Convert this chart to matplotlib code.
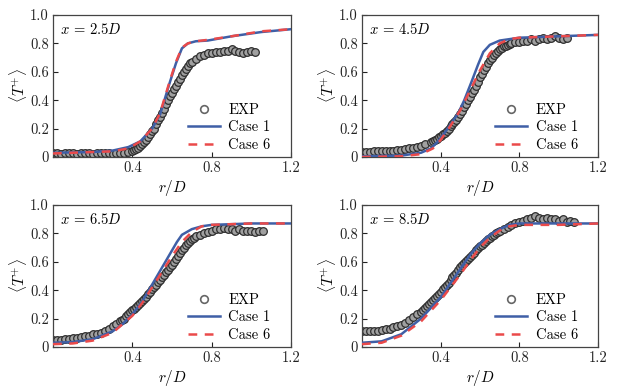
import matplotlib
matplotlib.use("Agg")
import matplotlib.pyplot as plt

plt.rcParams['font.family'] = ['cmr10', 'DejaVu Serif']
plt.rcParams['mathtext.fontset'] = 'cm'
plt.rcParams['axes.formatter.use_mathtext'] = True

panel_titles = ["2.5", "4.5", "6.5", "8.5"]

# ---- EXP data ----
exp1_r = ([round(0.02 * i, 2) for i in range(21)] +
          [round(0.41 + 0.01 * i, 2) for i in range(30)] +
          [round(0.72 + 0.02 * i, 2) for i in range(16)])
exp1_t = [0.025, 0.025, 0.02, 0.025, 0.03, 0.025, 0.02, 0.025, 0.03, 0.025,
          0.02, 0.025, 0.03, 0.025, 0.025, 0.02, 0.025, 0.025, 0.03, 0.035,
          0.045,
          0.05, 0.055, 0.065, 0.075, 0.09, 0.105, 0.12, 0.14, 0.16, 0.18,
          0.20, 0.23, 0.26, 0.28, 0.31, 0.34, 0.37, 0.40, 0.43, 0.45,
          0.48, 0.50, 0.53, 0.55, 0.58, 0.60, 0.62, 0.64, 0.66, 0.67,
          0.69, 0.71, 0.72, 0.73, 0.73, 0.74, 0.74, 0.75, 0.75, 0.76,
          0.75, 0.74, 0.73, 0.74, 0.75, 0.74]

exp2_r = ([round(0.02 * i, 2) for i in range(17)] +
          [round(0.35 + 0.01 * i, 2) for i in range(41)] +
          [round(0.76 + 0.02 * i, 2) for i in range(15)])
exp2_t = [0.035, 0.035, 0.035, 0.04, 0.04, 0.04, 0.04, 0.045, 0.045, 0.05,
          0.05, 0.055, 0.06, 0.065, 0.07, 0.08, 0.09,
          0.105, 0.115, 0.12, 0.13, 0.14, 0.15, 0.16, 0.17, 0.185, 0.20,
          0.215, 0.23, 0.245, 0.26, 0.28, 0.30, 0.325, 0.35, 0.375, 0.40,
          0.425, 0.45, 0.475, 0.50, 0.53, 0.56, 0.585, 0.61, 0.635, 0.66,
          0.68, 0.70, 0.715, 0.73, 0.745, 0.76, 0.77, 0.78, 0.785, 0.79,
          0.795,
          0.80, 0.81, 0.81, 0.82, 0.82, 0.83, 0.82, 0.83, 0.84, 0.83,
          0.84, 0.85, 0.84, 0.83, 0.84]

exp3_r = ([round(0.02 * i, 2) for i in range(18)] +
          [round(0.35 + 0.01 * i, 2) for i in range(38)] +
          [round(0.74 + 0.02 * i, 2) for i in range(17)])
exp3_t = [0.05, 0.05, 0.05, 0.055, 0.055, 0.06, 0.065, 0.07, 0.075, 0.08,
          0.09, 0.095, 0.10, 0.115, 0.13, 0.145, 0.16, 0.18,
          0.19, 0.20, 0.215, 0.23, 0.245, 0.26, 0.27, 0.28, 0.295, 0.31,
          0.325, 0.34, 0.355, 0.37, 0.39, 0.41, 0.425, 0.44, 0.455, 0.47,
          0.49, 0.51, 0.525, 0.54, 0.56, 0.58, 0.60, 0.62, 0.64, 0.66,
          0.68, 0.70, 0.715, 0.73, 0.745, 0.76, 0.77, 0.78,
          0.79, 0.80, 0.81, 0.82, 0.83, 0.83, 0.84, 0.83, 0.83, 0.82,
          0.83, 0.82, 0.82, 0.82, 0.81, 0.82, 0.82]

exp4_r = ([round(0.02 * i, 2) for i in range(15)] +
          [round(0.30 + 0.01 * i, 2) for i in range(41)] +
          [round(0.72 + 0.02 * i, 2) for i in range(19)])
exp4_t = [0.11, 0.11, 0.11, 0.115, 0.115, 0.12, 0.125, 0.13, 0.14, 0.145,
          0.155, 0.17, 0.19, 0.21, 0.23,
          0.25, 0.26, 0.275, 0.29, 0.30, 0.315, 0.33, 0.345, 0.36, 0.375,
          0.39, 0.405, 0.42, 0.435, 0.45, 0.47, 0.49, 0.505, 0.52, 0.54,
          0.56, 0.575, 0.59, 0.605, 0.62, 0.635, 0.65, 0.665, 0.68, 0.695,
          0.71, 0.72, 0.73, 0.745, 0.76, 0.77, 0.78, 0.79, 0.80, 0.81,
          0.82,
          0.83, 0.845, 0.86, 0.87, 0.88, 0.89, 0.90, 0.91, 0.92, 0.91,
          0.90, 0.91, 0.90, 0.90, 0.89, 0.90, 0.88, 0.89, 0.88]

# ---- Case 1 (blue solid) ----
c1_1_r = [0, 0.2, 0.3, 0.38, 0.44, 0.5, 0.54, 0.59, 0.62, 0.65, 0.68, 0.72, 0.78, 0.9, 1.05, 1.2]
c1_1_t = [0.03, 0.035, 0.045, 0.07, 0.11, 0.20, 0.30, 0.53, 0.66, 0.765, 0.80, 0.815, 0.82, 0.85, 0.88, 0.90]
c1_2_r = [0, 0.2, 0.3, 0.35, 0.38, 0.42, 0.46, 0.49, 0.52, 0.557, 0.59, 0.617, 0.65, 0.7, 0.8, 1.0, 1.2]
c1_2_t = [0.005, 0.01, 0.03, 0.06, 0.10, 0.17, 0.25, 0.31, 0.40, 0.53, 0.65, 0.74, 0.79, 0.82, 0.84, 0.85, 0.86]
c1_3_r = [0, 0.1, 0.2, 0.3, 0.35, 0.4, 0.45, 0.5, 0.55, 0.6, 0.625, 0.65, 0.7, 0.75, 0.8, 1.0, 1.2]
c1_3_t = [0.03, 0.035, 0.055, 0.11, 0.16, 0.23, 0.32, 0.44, 0.56, 0.68, 0.74, 0.79, 0.83, 0.85, 0.86, 0.87, 0.87]
c1_4_r = [0, 0.1, 0.2, 0.3, 0.4, 0.45, 0.5, 0.55, 0.6, 0.65, 0.7, 0.75, 0.8, 1.2]
c1_4_t = [0.03, 0.04, 0.09, 0.20, 0.35, 0.45, 0.55, 0.65, 0.73, 0.79, 0.83, 0.86, 0.87, 0.87]

# ---- Case 6 (red dashed) ----
c6_1_r = [0, 0.3, 0.38, 0.44, 0.5, 0.54, 0.59, 0.62, 0.65, 0.68, 0.72, 0.78, 0.9, 1.05, 1.2]
c6_1_t = [0.025, 0.04, 0.06, 0.11, 0.20, 0.31, 0.54, 0.67, 0.77, 0.80, 0.815, 0.825, 0.85, 0.885, 0.90]
c6_2_r = [0, 0.2, 0.3, 0.36, 0.4, 0.45, 0.5, 0.55, 0.6, 0.65, 0.7, 0.75, 0.8, 1.0, 1.2]
c6_2_t = [0.0, 0.005, 0.02, 0.06, 0.12, 0.22, 0.33, 0.47, 0.61, 0.73, 0.80, 0.83, 0.84, 0.85, 0.86]
c6_3_r = [0, 0.1, 0.2, 0.3, 0.4, 0.45, 0.5, 0.55, 0.6, 0.65, 0.7, 0.75, 0.8, 1.0, 1.2]
c6_3_t = [0.02, 0.025, 0.045, 0.10, 0.22, 0.31, 0.42, 0.53, 0.64, 0.74, 0.81, 0.85, 0.86, 0.87, 0.87]
c6_4_r = [0, 0.1, 0.2, 0.3, 0.4, 0.45, 0.5, 0.55, 0.6, 0.65, 0.7, 0.75, 0.8, 1.0, 1.2]
c6_4_t = [0.02, 0.03, 0.08, 0.18, 0.33, 0.42, 0.51, 0.61, 0.70, 0.77, 0.82, 0.85, 0.86, 0.86, 0.87]

xticks = [0.4, 0.8, 1.2]
xticklabels = ["0.4", "0.8", "1.2"]
yticks = [0, 0.2, 0.4, 0.6, 0.8, 1.0]
yticklabels = ["0", "0.2", "0.4", "0.6", "0.8", "1.0"]

exps = [(exp1_r, exp1_t), (exp2_r, exp2_t), (exp3_r, exp3_t), (exp4_r, exp4_t)]
c1s = [(c1_1_r, c1_1_t), (c1_2_r, c1_2_t), (c1_3_r, c1_3_t), (c1_4_r, c1_4_t)]
c6s = [(c6_1_r, c6_1_t), (c6_2_r, c6_2_t), (c6_3_r, c6_3_t), (c6_4_r, c6_4_t)]

fig = plt.figure(figsize=(6.28, 3.90), dpi=100)
W, H = 628, 390
boxes = [(53, 15, 291, 157), (362, 15, 598, 157),
         (53, 205, 291, 347), (362, 205, 598, 347)]

blue = '#3f5fa6'
red = '#ea4a4a'

for i, (x0, y0, x1, y1) in enumerate(boxes):
    ax = fig.add_axes([x0 / W, 1 - y1 / H, (x1 - x0) / W, (y1 - y0) / H])
    er, et = exps[i]
    ax.plot(er, et, 'o', ms=5.5, mfc='#a0a0a0', mec='#2e2e2e', mew=0.9,
            label='EXP', zorder=2)
    ax.plot(*c1s[i], '-', color=blue, lw=1.8, label='Case 1', zorder=3)
    ax.plot(*c6s[i], '--', color=red, lw=1.8, dashes=(3.5, 3), label='Case 6', zorder=4)
    ax.set_xlim(0, 1.2)
    ax.set_ylim(0, 1.0)
    ax.set_xticks(xticks)
    ax.set_xticklabels(xticklabels)
    ax.set_yticks(yticks)
    ax.set_yticklabels(yticklabels)
    ax.tick_params(direction='in', length=3.5, width=0.8, labelsize=10.5, colors='#222222', pad=3)
    for s in ax.spines.values():
        s.set_color('#444444')
        s.set_linewidth(0.9)
    ax.set_xlabel(r'$r/D$', fontsize=11, labelpad=2)
    ax.set_ylabel(r'$\langle T^{+}\rangle$', fontsize=11, labelpad=1)
    ax.text(0.03, 0.9, r'$x$ = ' + panel_titles[i] + r'$D$', transform=ax.transAxes,
            fontsize=10.5, va='center', ha='left')
    leg = ax.legend(loc='lower right', frameon=False, fontsize=10.5,
                    handlelength=2.2, handletextpad=0.6, labelspacing=0.25,
                    bbox_to_anchor=(0.97, -0.055))
    h0 = leg.legend_handles[0]
    h0.set_markerfacecolor('white')
    h0.set_markeredgecolor('#666666')
    h0.set_markeredgewidth(1.2)

fig.savefig('out.png', dpi=100)
